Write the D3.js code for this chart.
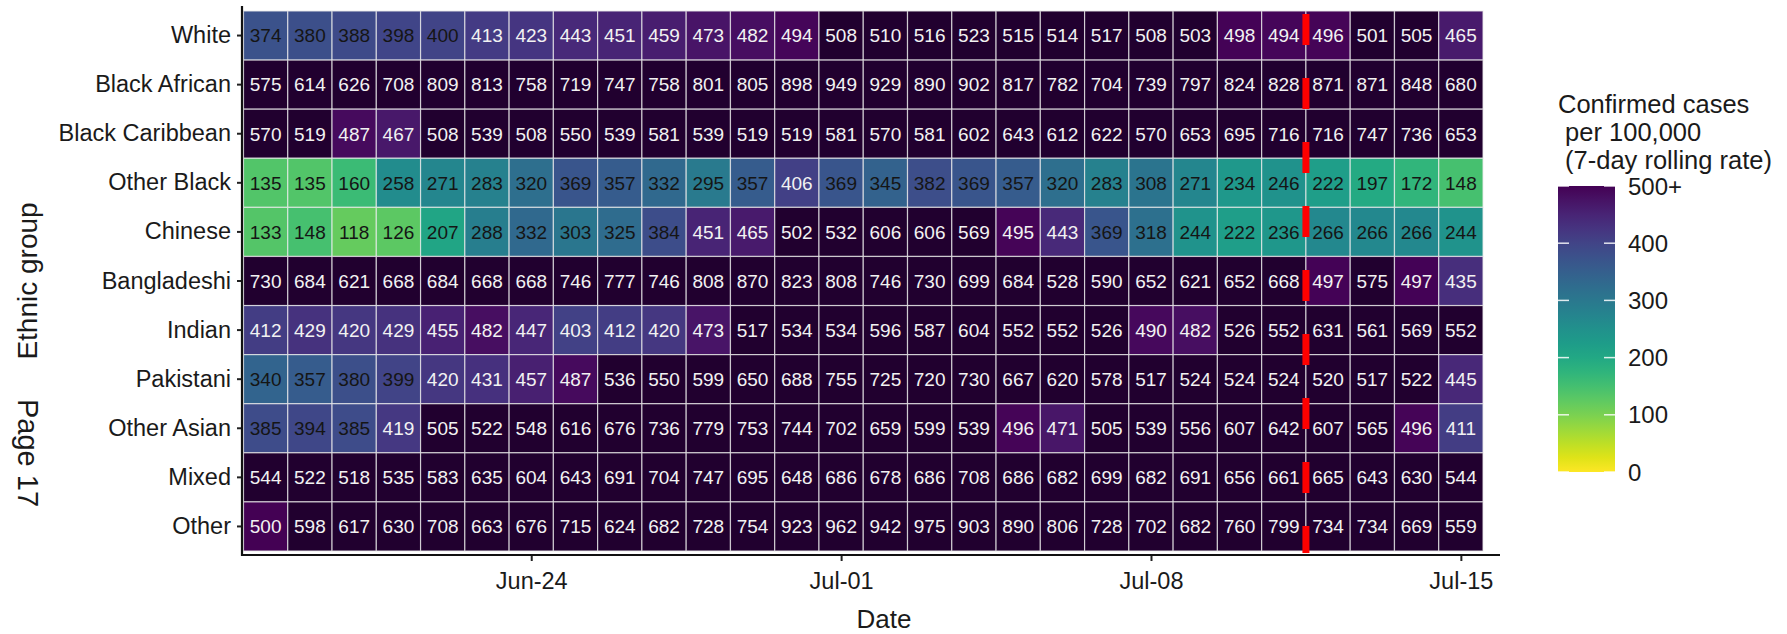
<!DOCTYPE html>
<html>
<head>
<meta charset="utf-8">
<script src="https://cdn.jsdelivr.net/npm/d3@7"></script>
<style>
  html, body { margin: 0; padding: 0; background: #fff; }
  svg { display: block; font-family: "Liberation Sans", Arial, sans-serif; }
</style>
</head>
<body>
<svg id="chart" width="1787" height="634"></svg>
<script>
// ---------- data ----------
const groups = ["White", "Black African", "Black Caribbean", "Other Black", "Chinese",
  "Bangladeshi", "Indian", "Pakistani", "Other Asian", "Mixed", "Other"];
const startDate = [2021, 5, 18];   // Jun-18 (first column)
const nDays = 28;                   // Jun-18 .. Jul-15
const tickDates = ["2021-06-24", "2021-07-01", "2021-07-08", "2021-07-15"];
const markerDate = "2021-07-11T12:00:00Z"; // red dashed line between Jul-11 and Jul-12
const legendTicks = [0, 100, 200, 300, 400, 500];
const legendLabels = ["0", "100", "200", "300", "400", "500+"];
const legendTitle = ["Confirmed cases", " per 100,000", " (7-day rolling rate)"];

const White          = [374,380,388,398,400,413,423,443,451,459,473,482,494,508,510,516,523,515,514,517,508,503,498,494,496,501,505,465];
const BlackAfrican   = [575,614,626,708,809,813,758,719,747,758,801,805,898,949,929,890,902,817,782,704,739,797,824,828,871,871,848,680];
const BlackCaribbean = [570,519,487,467,508,539,508,550,539,581,539,519,519,581,570,581,602,643,612,622,570,653,695,716,716,747,736,653];
const OtherBlack     = [135,135,160,258,271,283,320,369,357,332,295,357,406,369,345,382,369,357,320,283,308,271,234,246,222,197,172,148];
const Chinese        = [133,148,118,126,207,288,332,303,325,384,451,465,502,532,606,606,569,495,443,369,318,244,222,236,266,266,266,244];
const Bangladeshi    = [730,684,621,668,684,668,668,746,777,746,808,870,823,808,746,730,699,684,528,590,652,621,652,668,497,575,497,435];
const Indian         = [412,429,420,429,455,482,447,403,412,420,473,517,534,534,596,587,604,552,552,526,490,482,526,552,631,561,569,552];
const Pakistani      = [340,357,380,399,420,431,457,487,536,550,599,650,688,755,725,720,730,667,620,578,517,524,524,524,520,517,522,445];
const OtherAsian     = [385,394,385,419,505,522,548,616,676,736,779,753,744,702,659,599,539,496,471,505,539,556,607,642,607,565,496,411];
const Mixed          = [544,522,518,535,583,635,604,643,691,704,747,695,648,686,678,686,708,686,682,699,682,691,656,661,665,643,630,544];
const Other          = [500,598,617,630,708,663,676,715,624,682,728,754,923,962,942,975,903,890,806,728,702,682,760,799,734,734,669,559];
const seriesValues = [White, BlackAfrican, BlackCaribbean, OtherBlack, Chinese,
  Bangladeshi, Indian, Pakistani, OtherAsian, Mixed, Other];

// ---------- build ----------
(function () {
const DAY = 864e5;
const dates = d3.range(nDays).map(i => new Date(Date.UTC(startDate[0], startDate[1], startDate[2] + i)));
const cells = [];
groups.forEach((g, gi) => dates.forEach((d, di) => cells.push({ group: g, date: d, value: seriesValues[gi][di] })));

const svg = d3.select("#chart");
const pLeft = 243.5, pRight = 1483, pTop = 11, pBottom = 551;

const x = d3.scaleUtc()
  .domain([new Date(+dates[0] - DAY / 2), new Date(+dates[nDays - 1] + DAY / 2)])
  .range([pLeft, pRight]);
const y = d3.scaleBand().domain(groups).range([pTop, pBottom]);

const color = d3.scaleSequential(t => d3.interpolateViridis(1 - t)).domain([0, 500]);
const oobColor = "#21002f";
const fill = v => v > 500 ? oobColor : color(v);

// cells
svg.append("g").selectAll("rect").data(cells).join("rect")
  .attr("x", d => x(new Date(+d.date - DAY / 2)))
  .attr("y", d => y(d.group))
  .attr("width", d => x(new Date(+d.date + DAY / 2)) - x(new Date(+d.date - DAY / 2)))
  .attr("height", y.bandwidth())
  .attr("fill", d => fill(d.value))
  .attr("stroke", "rgba(235,235,235,0.75)")
  .attr("stroke-width", 1.2);

// cell labels
svg.append("g").selectAll("text").data(cells).join("text")
  .attr("x", d => x(d.date))
  .attr("y", d => y(d.group) + y.bandwidth() / 2 + 6.8)
  .attr("text-anchor", "middle")
  .attr("font-size", 19)
  .attr("fill", d => d.value > 400 ? "#f2f2f2" : "#151515")
  .text(d => d.value);

// red dashed marker
svg.append("line")
  .attr("x1", x(new Date(markerDate))).attr("x2", x(new Date(markerDate)))
  .attr("y1", 14).attr("y2", 553)
  .attr("stroke", "#ff0000").attr("stroke-width", 7)
  .attr("stroke-dasharray", "31 33");

// x axis
const xAxis = svg.append("g").attr("transform", "translate(0,555)")
  .call(d3.axisBottom(x).tickValues(tickDates.map(s => new Date(s + "T00:00:00Z")))
    .tickFormat(d3.utcFormat("%b-%d")).tickSize(6).tickSizeOuter(0));
xAxis.select(".domain").remove();
xAxis.selectAll(".tick line").attr("stroke", "#222").attr("stroke-width", 2);
xAxis.selectAll(".tick text").attr("font-size", 23.5).attr("fill", "#1a1a1a")
  .attr("font-family", "Liberation Sans, Arial, sans-serif").attr("dy", "1.05em");
svg.append("line").attr("x1", 241).attr("x2", 1500).attr("y1", 555).attr("y2", 555)
  .attr("stroke", "#111").attr("stroke-width", 2.2);

// y axis
const yAxis = svg.append("g").attr("transform", "translate(242,0)")
  .call(d3.axisLeft(y).tickSize(5).tickSizeOuter(0).tickPadding(6));
yAxis.select(".domain").remove();
yAxis.selectAll(".tick line").attr("stroke", "#222").attr("stroke-width", 2);
yAxis.selectAll(".tick text").attr("font-size", 23.5).attr("fill", "#1a1a1a")
  .attr("font-family", "Liberation Sans, Arial, sans-serif");
svg.append("line").attr("x1", 242).attr("x2", 242).attr("y1", 6).attr("y2", 556)
  .attr("stroke", "#111").attr("stroke-width", 2.2);

// axis titles
svg.append("text").attr("x", 884).attr("y", 628).attr("text-anchor", "middle")
  .attr("font-size", 26).attr("fill", "#1a1a1a").text("Date");
svg.append("text").attr("transform", "translate(37,281) rotate(-90)").attr("text-anchor", "middle")
  .attr("font-size", 28).attr("fill", "#1a1a1a").text("Ethnic group");
svg.append("text").attr("transform", "translate(18,453) rotate(90)").attr("text-anchor", "middle")
  .attr("font-size", 29).attr("fill", "#1a1a1a").text("Page 17");

// legend
const legX = 1558, legW = 57, legTop = 186, legBottom = 472;
const ly = d3.scaleLinear().domain([0, 500]).range([legBottom, legTop]);
const defs = svg.append("defs");
const grad = defs.append("linearGradient").attr("id", "vir").attr("x1", 0).attr("x2", 0).attr("y1", 1).attr("y2", 0);
d3.range(0, 1.0001, 0.05).forEach(t => grad.append("stop").attr("offset", t).attr("stop-color", color(t * 500)));
svg.append("rect").attr("x", legX).attr("y", legTop).attr("width", legW).attr("height", legBottom - legTop)
  .attr("fill", "url(#vir)");
const lg = svg.append("g");
legendTicks.forEach((v, i) => {
  lg.append("line").attr("x1", legX).attr("x2", legX + 11).attr("y1", ly(v)).attr("y2", ly(v))
    .attr("stroke", "#fff").attr("stroke-width", 1.5).attr("opacity", 0.85);
  lg.append("line").attr("x1", legX + legW - 11).attr("x2", legX + legW).attr("y1", ly(v)).attr("y2", ly(v))
    .attr("stroke", "#fff").attr("stroke-width", 1.5).attr("opacity", 0.85);
  lg.append("text").attr("x", legX + legW + 13).attr("y", ly(v) + 8.5)
    .attr("font-size", 24).attr("fill", "#1a1a1a").text(legendLabels[i]);
});
legendTitle.forEach((t, i) => {
  svg.append("text").attr("x", legX).attr("y", 113 + i * 28).attr("font-size", 25.5)
    .attr("fill", "#1a1a1a").attr("xml:space", "preserve").style("white-space", "pre").text(t);
});
})();
</script>
</body>
</html>
